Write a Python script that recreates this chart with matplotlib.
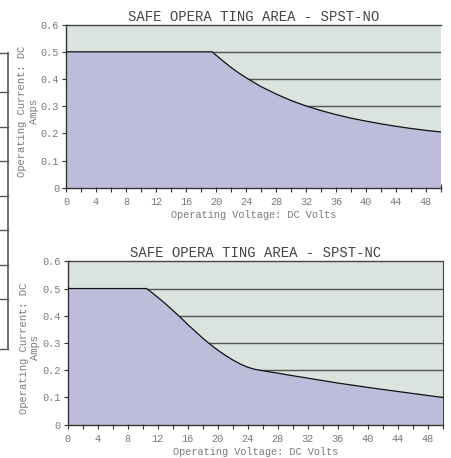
import numpy as np
import matplotlib
matplotlib.use("Agg")
import matplotlib.pyplot as plt
from matplotlib.lines import Line2D
from matplotlib.ticker import MultipleLocator, FixedLocator
#-----------------------------------------------------------------------------

# SPST-NO safe operating curve (volts, amps)
no_volts = [0, 19.5, 20, 21, 22, 23, 24, 26, 28, 30, 32, 34, 36, 38, 40, 42, 44, 46, 48, 50]
no_amps = [0.5, 0.5, 0.488, 0.465, 0.443, 0.423, 0.405, 0.372, 0.345, 0.321, 0.301, 0.284,
           0.269, 0.256, 0.245, 0.235, 0.226, 0.218, 0.211, 0.205]

# SPST-NC safe operating curve (volts, amps)
nc_volts = [0, 10.5, 11, 12, 13, 14, 15, 16, 17, 18, 19, 20, 21, 22, 23, 24, 25, 30, 36, 40, 44, 50]
nc_amps = [0.5, 0.5, 0.49, 0.468, 0.445, 0.42, 0.395, 0.368, 0.343, 0.318, 0.295, 0.274,
           0.255, 0.238, 0.223, 0.211, 0.203, 0.18, 0.153, 0.137, 0.122, 0.10]

titles = ["SAFE OPERA TING AREA - SPST-NO", "SAFE OPERA TING AREA - SPST-NC"]
xlabel = "Operating Voltage: DC Volts"
ylabel = "Operating Current: DC\nAmps"
grid_levels = [0.1, 0.2, 0.3, 0.4, 0.5]
ytick_vals = [0, 0.1, 0.2, 0.3, 0.4, 0.5, 0.6]
ytick_labels = ["0", "0.1", "0.2", "0.3", "0.4", "0.5", "0.6"]

# rows of the table cut off at the left edge (pixel y)
table_rows = [52.7, 91.7, 126.7, 161, 195.7, 230, 265, 299, 349]

plt.rcParams['font.family'] = ['Liberation Mono', 'DejaVu Sans Mono']

W, H = 451, 458
fig = plt.figure(figsize=(W / 100, H / 100), dpi=100)

purple = '#BDBDDB'
green = '#DAE3DD'
gray_text = '#7a7a7a'

panels = [
    (fig.add_axes([66 / W, 1 - 187.7 / H, 375 / W, 163 / H]), no_volts, no_amps, titles[0], False),
    (fig.add_axes([67.7 / W, 1 - 424.7 / H, 375 / W, 163.4 / H]), nc_volts, nc_amps, titles[1], True),
]

for ax, v, a, title, right in panels:
    ax.set_facecolor(green)
    for g in grid_levels:
        ax.axhline(g, color='#555555', lw=1.0, zorder=1)
    ax.fill_between(v, a, 0, facecolor=purple, edgecolor='none', zorder=2)
    ax.plot(v, a, color='#111111', lw=0.9, zorder=3)
    ax.set_xlim(0, 50)
    ax.set_ylim(0, 0.6)
    ax.xaxis.set_major_locator(MultipleLocator(4))
    ax.xaxis.set_minor_locator(MultipleLocator(2))
    ax.yaxis.set_major_locator(FixedLocator(ytick_vals))
    ax.set_yticklabels(ytick_labels)
    ax.tick_params(which='both', direction='inout', colors='#333333',
                   labelcolor=gray_text, labelsize=7.4)
    ax.tick_params(which='major', length=6, width=0.8)
    ax.tick_params(which='minor', length=6, width=0.8)
    ax.tick_params(axis='x', pad=4)
    ax.tick_params(axis='y', pad=2)
    for s in ['left', 'bottom']:
        ax.spines[s].set_color('#333333')
        ax.spines[s].set_linewidth(1.0)
    ax.spines['top'].set_color('#444444')
    ax.spines['top'].set_linewidth(1.0)
    ax.spines['right'].set_visible(right)
    ax.spines['right'].set_color('#444444')
    ax.set_title(title, fontsize=10, color='#444444', pad=3)
    ax.set_xlabel(xlabel, fontsize=7.4, color=gray_text, labelpad=2)
    ax.set_ylabel(ylabel, fontsize=7.6, color=gray_text, linespacing=1.2)
    ax.yaxis.set_label_coords(-0.073, 0.47)

# table fragment on the left edge
fig.add_artist(Line2D([7.7 / W, 7.7 / W], [1 - table_rows[0] / H, 1 - table_rows[-1] / H],
                      color='#555555', lw=1.2))
for r in table_rows:
    fig.add_artist(Line2D([0, 7.7 / W], [1 - r / H, 1 - r / H], color='#555555', lw=1.0))

plt.savefig("out.png", dpi=100)
#-----------------------------------------------------------------------------
